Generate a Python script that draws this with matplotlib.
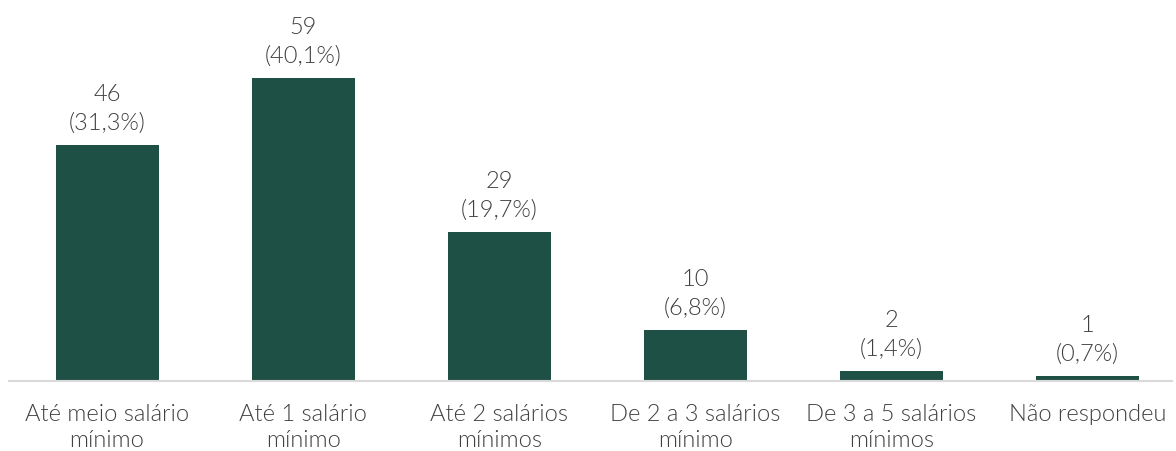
import matplotlib
matplotlib.use("Agg")
import matplotlib.pyplot as plt

categorias = ["Até meio salário\nmínimo", "Até 1 salário\nmínimo", "Até 2 salários\nmínimos",
              "De 2 a 3 salários\nmínimo", "De 3 a 5 salários\nmínimos", "Não respondeu"]
contagens = [46, 59, 29, 10, 2, 1]
percentuais = ["31,3%", "40,1%", "19,7%", "6,8%", "1,4%", "0,7%"]

verde = "#1f5045"
cinza = "#404040"

plt.rcParams['font.family'] = ['Lato', 'DejaVu Sans']

fig = plt.figure(figsize=(11.76, 4.52), dpi=100)
ax = fig.add_axes([9 / 1176, 70 / 452, 1163 / 1176, 382 / 452])

x = range(len(categorias))
bars = ax.bar(x, contagens, width=0.525, color=verde)

for b, n, p in zip(bars, contagens, percentuais):
    ax.annotate(f"{n}\n({p})", (b.get_x() + b.get_width() / 2, b.get_height()),
                xytext=(0, 8.5), textcoords="offset points", ha="center", va="bottom",
                fontsize=17, fontweight=300, color=cinza, linespacing=1.44)

ax.set_xlim(-0.5, 5.43)
ax.set_ylim(0, 74.4)
ax.set_xticks(list(x))
ax.set_xticklabels(categorias, fontsize=17, fontweight=300, color=cinza, linespacing=1.27)
ax.tick_params(axis="x", length=0, pad=16)
ax.set_yticks([])
for s in ["top", "right", "left"]:
    ax.spines[s].set_visible(False)
ax.spines["bottom"].set_color("#d9d9d9")
ax.spines["bottom"].set_linewidth(1.5)

fig.savefig("out.png", dpi=100)
